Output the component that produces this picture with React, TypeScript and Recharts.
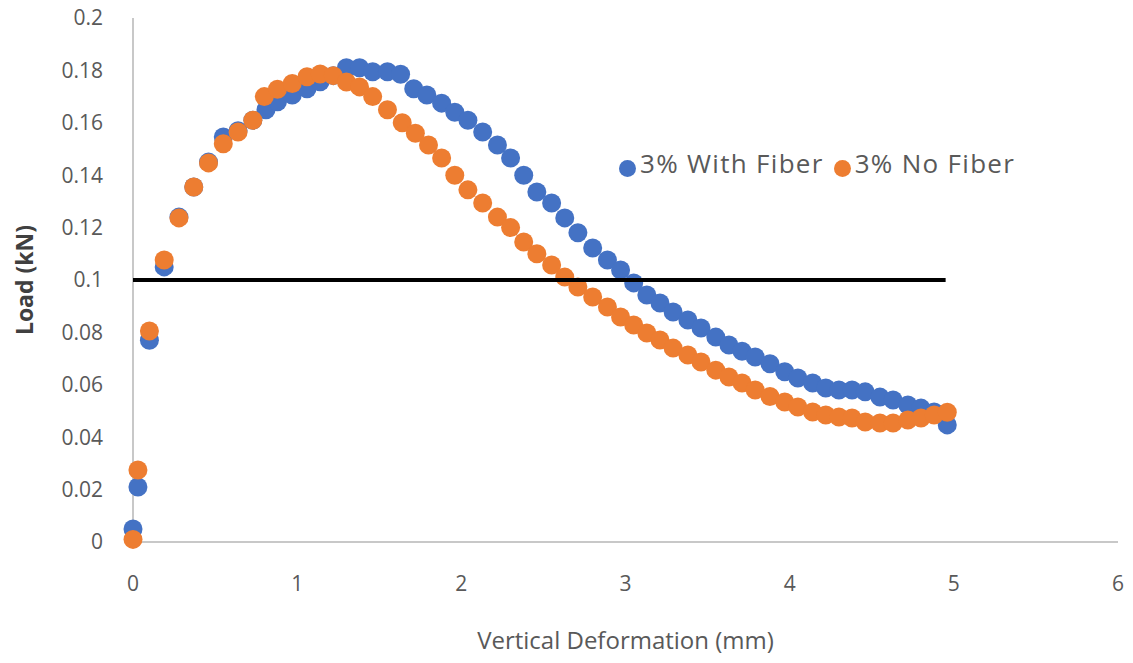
import React from "react";
import {
  ScatterChart,
  Scatter,
  XAxis,
  YAxis,
  Legend,
} from "recharts";

// 3% With Fiber (blue)
const withFiberX = [
  0, 0.03, 0.1, 0.19, 0.28, 0.37, 0.46, 0.55, 0.64, 0.73, 0.81, 0.88, 0.97,
  1.06, 1.14, 1.22, 1.3, 1.38, 1.46, 1.55, 1.63, 1.71, 1.79, 1.88, 1.96, 2.04,
  2.13, 2.22, 2.3, 2.38, 2.46, 2.55, 2.63, 2.71, 2.8, 2.89, 2.97, 3.05, 3.13,
  3.21, 3.29, 3.38, 3.46, 3.55, 3.63, 3.71, 3.79, 3.88, 3.97, 4.05, 4.14, 4.22,
  4.3, 4.38, 4.46, 4.55, 4.63, 4.72, 4.8, 4.88, 4.96,
];
const withFiberY = [
  0.005, 0.021, 0.077, 0.105, 0.124, 0.1355, 0.145, 0.1546, 0.157, 0.161,
  0.165, 0.168, 0.1706, 0.173, 0.1757, 0.178, 0.181, 0.181, 0.1795, 0.1795,
  0.1785, 0.173, 0.1706, 0.1675, 0.164, 0.161, 0.1565, 0.1515, 0.1466, 0.14,
  0.1336, 0.1294, 0.1237, 0.118, 0.1122, 0.1076, 0.1038, 0.0989, 0.0943,
  0.0912, 0.0878, 0.0847, 0.0817, 0.0782, 0.0752, 0.0728, 0.0706, 0.068, 0.065,
  0.0626, 0.0607, 0.0588, 0.058, 0.058, 0.0573, 0.0553, 0.0542, 0.0523, 0.0511,
  0.0496, 0.0447,
];

// 3% No Fiber (orange)
const noFiberX = [
  0, 0.03, 0.1, 0.19, 0.28, 0.37, 0.46, 0.55, 0.64, 0.73, 0.8, 0.88, 0.97,
  1.06, 1.14, 1.22, 1.3, 1.38, 1.46, 1.55, 1.64, 1.72, 1.8, 1.88, 1.96, 2.04,
  2.13, 2.22, 2.3, 2.38, 2.46, 2.55, 2.63, 2.71, 2.8, 2.89, 2.97, 3.05, 3.13,
  3.21, 3.29, 3.38, 3.46, 3.55, 3.63, 3.71, 3.79, 3.88, 3.97, 4.05, 4.14, 4.22,
  4.3, 4.38, 4.46, 4.55, 4.63, 4.72, 4.8, 4.88, 4.96,
];
const noFiberY = [
  0.001, 0.0275, 0.0805, 0.1076, 0.1237, 0.1355, 0.1447, 0.152, 0.1565, 0.161,
  0.17, 0.1728, 0.175, 0.1776, 0.1786, 0.178, 0.1756, 0.1737, 0.17, 0.165,
  0.16, 0.156, 0.1515, 0.1466, 0.14, 0.1344, 0.1294, 0.124, 0.12, 0.1145, 0.11,
  0.1057, 0.1011, 0.0973, 0.0935, 0.0897, 0.0859, 0.0828, 0.0798, 0.0771,
  0.074, 0.0714, 0.0687, 0.0656, 0.063, 0.0607, 0.058, 0.0555, 0.0534, 0.0515,
  0.0496, 0.0485, 0.0477, 0.0473, 0.0458, 0.0454, 0.0454, 0.0466, 0.0473,
  0.0485, 0.0495,
];

// black 0.1 kN line
const thresholdX = [0, 4.95];
const thresholdY = [0.1, 0.1];

const xTicks = [0, 1, 2, 3, 4, 5, 6];
const yTicks = [0, 0.02, 0.04, 0.06, 0.08, 0.1, 0.12, 0.14, 0.16, 0.18, 0.2];

const zip = (xs: number[], ys: number[]) => xs.map((x, i) => ({ x, y: ys[i] }));

const withFiber = zip(withFiberX, withFiberY);
const noFiber = zip(noFiberX, noFiberY);
const threshold = zip(thresholdX, thresholdY);

const BLUE = "#4472C4";
const ORANGE = "#ED7D31";
const FONT = "'Open Sans', sans-serif";

const dot = (color: string) => (props: any) => (
  <circle cx={props.cx} cy={props.cy} r={9.5} fill={color} />
);

const tickStyle = { fill: "#595959", fontSize: 21, fontFamily: FONT };

export default function App() {
  return (
    <div style={{ position: "absolute", left: 0, top: 0, background: "#fff", fontFamily: FONT }}>
      <ScatterChart
        width={1133}
        height={663}
        margin={{ top: 18, right: 15, bottom: 0, left: 0 }}
      >
        <XAxis
          type="number"
          dataKey="x"
          domain={[0, 6]}
          ticks={xTicks}
          tick={tickStyle}
          tickLine={false}
          tickSize={0}
          tickMargin={34}
          height={121}
          axisLine={{ stroke: "#c8c8c8", strokeWidth: 2 }}
          label={{
            value: "Vertical Deformation (mm)",
            position: "insideBottom",
            offset: 14,
            style: { fill: "#595959", fontSize: 24, fontFamily: FONT },
          }}
        />
        <YAxis
          type="number"
          dataKey="y"
          domain={[0, 0.2]}
          ticks={yTicks}
          tick={tickStyle}
          tickLine={false}
          tickSize={0}
          tickMargin={30}
          width={133}
          axisLine={{ stroke: "#c8c8c8", strokeWidth: 2 }}
          label={{
            value: "Load (kN)",
            angle: -90,
            position: "insideLeft",
            offset: 25,
            style: {
              textAnchor: "middle",
              fill: "#404040",
              fontSize: 23,
              fontWeight: "bold",
              fontFamily: FONT,
            },
          }}
        />
        <Legend
          layout="horizontal"
          verticalAlign="middle"
          align="center"
          iconType="circle"
          iconSize={17}
          itemSorter={() => 0}
          wrapperStyle={{ top: 145, left: 619, width: "auto" }}
          formatter={(value: string) => (
            <span style={{ color: "#595959", fontSize: 26, fontFamily: FONT, letterSpacing: 1.3 }}>
              {value}
            </span>
          )}
        />
        <Scatter
          name="3% With Fiber"
          data={withFiber}
          fill={BLUE}
          shape={dot(BLUE)}
          isAnimationActive={false}
        />
        <Scatter
          name="3% No Fiber"
          data={noFiber}
          fill={ORANGE}
          shape={dot(ORANGE)}
          isAnimationActive={false}
        />
        <Scatter
          name="threshold"
          data={threshold}
          line={{ stroke: "#000", strokeWidth: 4 }}
          shape={() => <g />}
          legendType="none"
          isAnimationActive={false}
        />
      </ScatterChart>
    </div>
  );
}
